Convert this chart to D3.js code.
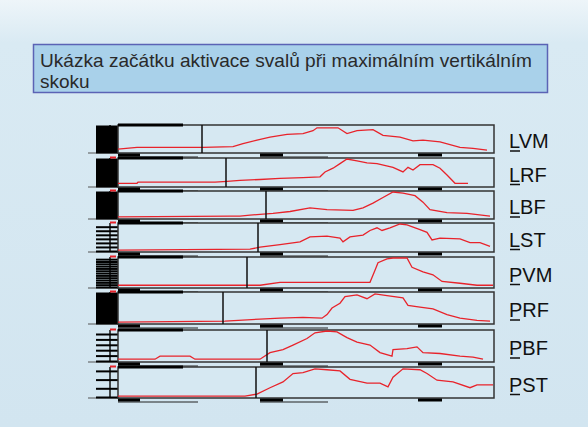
<!DOCTYPE html>
<html>
<head>
<meta charset="utf-8">
<title>Ukázka začátku aktivace svalů</title>
<script type="text/javascript" src="https://d3js.org/d3.v7.min.js"></script>
<style>
    body { margin: 0; }
    svg { display: block; }
</style>
</head>
<body>
<script type="text/javascript">
var w = 588;
var h = 427;

var title = ["Ukázka začátku aktivace svalů při maximálním vertikálním", "skoku"];
var muscles = ["LVM", "LRF", "LBF", "LST", "PVM", "PRF", "PBF", "PST"];

// onset of the activation (vertical marker), ms
var onsets = [168, 216, 296, 280, 258, 210, 298, 276];

// EMG envelopes: [time ms, amplitude % of panel]
var lvm = [[0,11],[38,18],[170,18],[230,21],[250,32],[278,46],[304,57],[338,68],[370,71],[390,82],[398,93],[418,93],[440,93],[458,71],[478,82],[510,86],[530,64],[564,57],[590,43],[610,46],[644,39],[684,18],[710,14],[738,7]];
var lrf = [[0,10],[38,10],[40,14],[194,14],[218,17],[244,21],[284,24],[324,28],[370,31],[404,34],[414,52],[430,66],[444,83],[458,100],[478,93],[498,86],[518,83],[550,69],[570,52],[580,69],[590,59],[604,79],[630,79],[644,66],[658,41],[674,10],[700,10]];
var lbf = [[0,4],[224,7],[244,7],[264,11],[284,14],[310,18],[344,25],[384,39],[418,32],[470,29],[490,39],[510,57],[530,79],[550,100],[570,96],[594,86],[610,61],[624,32],[658,21],[698,18],[744,7]];
var lst = [[0,3],[264,7],[284,14],[324,24],[364,34],[384,52],[418,55],[444,48],[450,34],[464,52],[490,59],[504,76],[518,86],[528,76],[544,86],[564,100],[578,97],[604,79],[618,69],[628,41],[644,48],[684,45],[704,31],[724,31],[744,17]];
var pvm = [[0,6],[254,6],[284,6],[324,16],[418,16],[504,16],[514,58],[520,84],[538,97],[550,100],[564,100],[578,100],[588,68],[610,52],[630,42],[648,19],[684,13],[718,6],[750,6]];
var prf = [[0,3],[214,6],[284,13],[324,16],[370,19],[408,16],[418,28],[428,50],[444,66],[454,88],[478,94],[498,81],[514,97],[538,91],[570,84],[580,59],[604,53],[630,47],[658,28],[684,16],[718,9],[744,6]];
var pbf = [[0,6],[74,6],[84,16],[144,16],[154,6],[264,6],[284,6],[304,28],[330,38],[350,53],[378,75],[394,94],[418,100],[438,97],[458,78],[478,63],[504,53],[524,28],[548,16],[550,38],[578,41],[598,47],[610,28],[644,25],[684,16],[710,13],[730,6]];
var pst = [[0,3],[254,3],[278,10],[304,32],[330,52],[350,81],[370,84],[394,97],[418,94],[444,90],[464,61],[498,48],[524,48],[540,35],[550,68],[570,97],[604,94],[618,81],[638,58],[670,52],[704,32],[718,42],[750,42]];
var traces = [lvm, lrf, lbf, lst, pvm, prf, pbf, pst];

// spacing of the left scale ticks, % of panel
var tickStep = [2, 2, 2, 15, 8, 2, 18, 30];

// panel frames (screenshot rows are not evenly spaced)
var panelTop = [125, 158, 191, 223, 257, 292, 330, 367];
var panelH = [28, 29, 28, 29, 31, 32, 32, 31];
var left = 118, right = 494;

var svg = d3.select("body").append("svg").attr("width", w).attr("height", h);

var defs = svg.append("defs");
var grad = defs.append("linearGradient").attr("id", "bg").attr("x1", 0).attr("y1", 0).attr("x2", 0).attr("y2", 1);
grad.append("stop").attr("offset", "0%").attr("stop-color", "#eef5f9");
grad.append("stop").attr("offset", "10%").attr("stop-color", "#d9eaf3");
grad.append("stop").attr("offset", "100%").attr("stop-color", "#d2e5f0");

svg.append("rect").attr("width", w).attr("height", h).attr("fill", "url(#bg)");

// title box
svg.append("rect")
    .attr("x", 33.5).attr("y", 44.5).attr("width", 514).attr("height", 48)
    .attr("fill", "#a9d1ea").attr("stroke", "#5b63b5").attr("stroke-width", 1.5);

svg.selectAll("text.title")
    .data(title)
    .enter()
    .append("text")
    .attr("class", "title")
    .attr("x", 40)
    .attr("y", function(d, i) { return 67 + i * 21; })
    .attr("font-family", "Liberation Sans, Arial, sans-serif")
    .attr("font-size", 19)
    .attr("fill", "#2a2a2a")
    .attr("textLength", function(d, i) { return i == 0 ? 492 : null; })
    .attr("lengthAdjust", "spacingAndGlyphs")
    .text(function(d) { return d; });

var x = d3.scaleLinear().domain([0, 752]).range([left, right]);

muscles.forEach(function(name, i) {
    var top = panelTop[i], bottom = panelTop[i] + panelH[i];
    var y = d3.scaleLinear().domain([0, 100]).range([bottom - 1, top + 1]);
    var g = svg.append("g");

    // thin line running left of the panel bottom
    g.append("line")
        .attr("x1", 88).attr("x2", left).attr("y1", bottom).attr("y2", bottom)
        .attr("stroke", "#555").attr("stroke-width", 1);

    // vertical scale line
    g.append("line")
        .attr("x1", left - 8).attr("x2", left - 8).attr("y1", top).attr("y2", bottom)
        .attr("stroke", "#111").attr("stroke-width", 1.5);

    // left scale ticks
    var axis = d3.axisLeft(y)
        .tickValues(d3.range(0, 101, tickStep[i]))
        .tickSize(22)
        .tickFormat("");
    var ax = g.append("g").attr("transform", "translate(" + left + ",0)").call(axis);
    ax.selectAll(".tick line").attr("stroke", "#000").attr("stroke-width", 2);
    ax.select(".domain").remove();

    // frame
    g.append("rect")
        .attr("x", left).attr("y", top)
        .attr("width", right - left).attr("height", bottom - top)
        .attr("fill", "#d6e8f2").attr("stroke", "#333").attr("stroke-width", 1.5);

    // thick top/bottom marks
    g.append("line")
        .attr("x1", left).attr("x2", x(130)).attr("y1", top).attr("y2", top)
        .attr("stroke", "#000").attr("stroke-width", 3);
    g.append("line")
        .attr("x1", left).attr("x2", x(160)).attr("y1", bottom + 4).attr("y2", bottom + 4)
        .attr("stroke", "#222").attr("stroke-width", 1);
    g.append("line")
        .attr("x1", x(284)).attr("x2", x(420)).attr("y1", bottom + 4).attr("y2", bottom + 4)
        .attr("stroke", "#222").attr("stroke-width", 1);
    [[0, 44], [284, 330], [600, 648]].forEach(function(s) {
        g.append("line")
            .attr("x1", x(s[0])).attr("x2", x(s[1])).attr("y1", bottom + 2).attr("y2", bottom + 2)
            .attr("stroke", "#000").attr("stroke-width", 3);
    });

    // small red start mark
    if (i > 0) {
        g.append("line")
            .attr("x1", left - 8).attr("x2", left - 2).attr("y1", top - 0.5).attr("y2", top - 0.5)
            .attr("stroke", "#e8232b").attr("stroke-width", 2);
    }

    // EMG envelope
    var line = d3.line()
        .x(function(d) { return x(d[0]); })
        .y(function(d) { return y(d[1]); });
    g.append("path")
        .datum(traces[i])
        .attr("d", line)
        .attr("fill", "none")
        .attr("stroke", "#e8232b")
        .attr("stroke-width", 1.3);

    // onset marker
    g.append("line")
        .attr("x1", x(onsets[i])).attr("x2", x(onsets[i]))
        .attr("y1", top).attr("y2", bottom)
        .attr("stroke", "#111").attr("stroke-width", 1.5);

    // label with underlined first letter
    g.append("text")
        .attr("x", 509)
        .attr("y", (top + bottom) / 2 + 9)
        .attr("font-family", "Liberation Sans, Arial, sans-serif")
        .attr("font-size", 20)
        .attr("fill", "#111")
        .text(name);
    g.append("line")
        .attr("x1", 510).attr("x2", 520)
        .attr("y1", (top + bottom) / 2 + 12).attr("y2", (top + bottom) / 2 + 12)
        .attr("stroke", "#111").attr("stroke-width", 1.5);
});
</script>
</body>
</html>
